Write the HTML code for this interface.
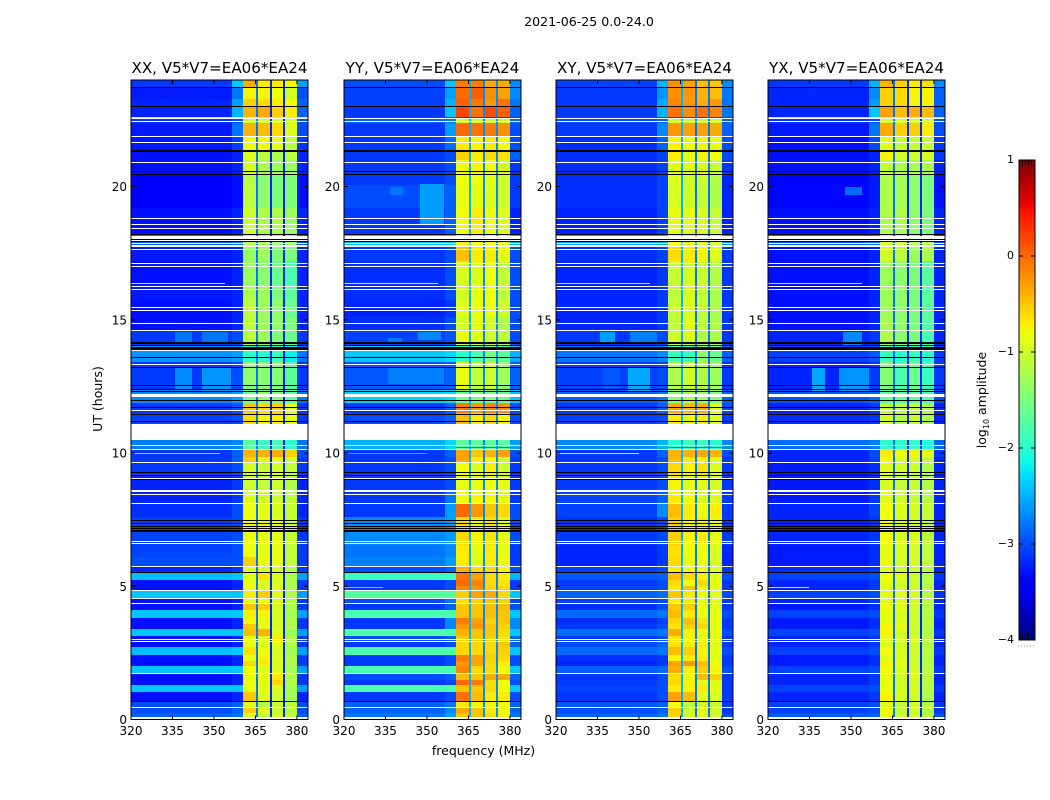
<!DOCTYPE html>
<html lang="en">
<head>
<meta charset="utf-8">
<title>2021-06-25 0.0-24.0</title>
<style>
html,body{margin:0;padding:0;background:#fff;width:1050px;height:800px;overflow:hidden}
svg{display:block;position:absolute;left:0;top:0}
text{font-family:"DejaVu Sans","Liberation Sans",sans-serif;fill:#000}
</style>
</head>
<body>
<svg id="figure" width="1050" height="800" viewBox="0 0 1050 800" xmlns="http://www.w3.org/2000/svg">
<text x="589" y="26" font-size="12.6" text-anchor="middle">2021-06-25 0.0-24.0</text>
<text x="483.5" y="755" font-size="12.5" text-anchor="middle">frequency (MHz)</text>
<text x="102" y="399" font-size="12.5" text-anchor="middle" transform="rotate(-90 102 399)">UT (hours)</text>
<text x="986" y="400" font-size="12.5" text-anchor="middle" transform="rotate(-90 986 400)">log<tspan font-size="8" dy="3">10</tspan><tspan dy="-3"> amplitude</tspan></text>
</svg>
<script>
// ---- axis data ----
const panelTitles = ['XX, V5*V7=EA06*EA24','YY, V5*V7=EA06*EA24','XY, V5*V7=EA06*EA24','YX, V5*V7=EA06*EA24'];
const xTickValues = [320,335,350,365,380];
const yTickValues = [0,5,10,15,20];
const colorbarTicks = [1,0,-1,-2,-3,-4];

// frequency (MHz) segments: low band, ramp, sub-band 1, gap, 2, gap, 3, gap, 4, right edge
const channelEdges = [320,356.5,360.5,365.1,365.8,370.3,370.9,375.1,375.7,379.9,384];

// UT (hours) where each row of the level tables starts
const rowStarts = [0,.25,.45,.7,1.03,1.3,1.5,1.74,2,2.2,2.42,2.72,2.95,3.13,3.4,3.6,3.81,4.11,4.35,4.56,4.82,5.02,5.23,5.5,5.72,6.1,6.55,7.6,8.12,8.61,9.14,9.66,9.85,10.15,10.49,11.1,11.5,11.88,12.36,13.4,13.87,14.05,14.6,15.1,15.74,16.3,17.2,17.77,18.2,19.2,20.06,20.43,21,21.37,21.9,22.4,22.6,23,23.3,23.73];

// log10 amplitude per row: [low, ramp, sub1, sub2, sub3, sub4, right]
const xxLevels = [
[-2.9,-2.8,-.9,-1.1,-1,-1.1,-2.9],[-3,-2.9,-.55,-.9,-1,-1.1,-3],[-3,-2.9,-.9,-1.2,-1.05,-1.1,-3],[-3.3,-3.2,-.5,-.9,-1,-1.25,-3.2],
[-2.4,-2.4,-.85,-.85,-.95,-1.25,-2.6],[-3.3,-3.2,-.8,-.85,-.6,-1.2,-3.1],[-3.3,-3.2,-.8,-.85,-.7,-1.2,-3.1],[-2.4,-2.4,-.8,-.9,-.9,-1.25,-2.6],
[-3.3,-3.2,-.6,-.7,-.95,-1.2,-3.1],[-3.3,-3.2,-.85,-.75,-.9,-1.2,-3.1],[-2.45,-2.4,-.65,-.8,-.95,-1.25,-2.6],[-3.3,-3.2,-.8,-.9,-.85,-1.2,-3.1],
[-3.3,-3.2,-.85,-.9,-.7,-1.2,-3.1],[-2.4,-2.4,-.45,-.4,-.9,-1.3,-2.6],[-3.3,-3.2,-.5,-.85,-.95,-1.2,-3.1],[-3.3,-3.2,-.75,-.85,-.95,-1.2,-3.1],
[-2.4,-2.4,-.7,-.75,-.95,-1.25,-2.6],[-3.3,-3.2,-.5,-.55,-.95,-1.2,-3.1],[-3.3,-3.2,-.85,-.8,-.95,-1.2,-3.1],[-2.4,-2.4,-.7,-.55,-.9,-1.2,-2.6],
[-3.3,-3.2,-.85,-.9,-.9,-1.2,-3.1],[-3.3,-3.2,-.8,-.9,-.95,-1.2,-3.1],[-2.45,-2.4,-.85,-.65,-.9,-1.2,-2.6],[-3.2,-3.1,-.9,-.9,-.95,-1.2,-3.1],
[-3,-3,-.55,-.8,-.85,-1.1,-3.1],[-3.05,-3,-.8,-.85,-.85,-1.1,-3.1],[-3.05,-3,-.8,-.85,-.85,-1.05,-3.1],[-3.15,-3,-.8,-.85,-.95,-1.05,-3.2],
[-3.2,-3.1,-.9,-1,-1,-1.1,-3.2],[-3.2,-3.1,-1,-1.05,-1,-1.15,-3.2],[-3.1,-3,-.95,-1,-.95,-1.1,-3.1],[-3.1,-2.9,-.55,-.85,-.85,-1,-3.1],
[-3.1,-2.9,-.4,-.4,-.35,-.55,-3],[-2.75,-2.7,-1.7,-1.9,-1.8,-2,-2.8],[-2.75,-2.7,-1.7,-1.9,-1.8,-2,-2.8],[-3.05,-3,-.6,-.75,-.7,-.85,-3.1],
[-3.1,-2.95,-.5,-.6,-.55,-.85,-3.1],[-2.7,-2.6,-1.6,-1.4,-1.5,-1.7,-2.8],[-3.1,-3,-1.4,-1.4,-1.45,-1.7,-3.1],[-2.65,-2.6,-2,-2,-1.9,-2.2,-2.8],
[-2.65,-2.6,-2,-2,-1.9,-2.2,-2.8],[-3.1,-3,-1.1,-1.3,-1.5,-1.6,-3.1],[-3.3,-3.2,-1.1,-1.3,-1.4,-1.5,-3.2],[-3.3,-3.2,-1.1,-1.3,-1.4,-1.6,-3.2],
[-3.25,-3.2,-1.2,-1.3,-1.5,-1.7,-3.2],[-3.3,-3.2,-1.3,-1.4,-1.6,-1.8,-3.2],[-3.25,-3.2,-1.35,-1.3,-1.5,-1.5,-3.2],[-2.9,-2.8,-1.2,-1.25,-1.4,-1.4,-3],
[-3.3,-3.2,-1,-1.2,-1.2,-1.3,-3.2],[-3.4,-3.3,-1.1,-1.4,-1.5,-1.5,-3.3],[-3.4,-3.3,-1.15,-1.4,-1.5,-1.5,-3.3],[-3.3,-3.2,-.95,-1.2,-1.3,-1.3,-3.2],
[-3.3,-3.2,-.9,-1.1,-1.2,-1.1,-3.2],[-3.25,-3.05,-.8,-.8,-.85,-1.1,-3.1],[-3.25,-2.8,-.4,-.45,-.6,-.9,-3],[-3.1,-3,-1,-1,-1,-1,-3],
[-3.2,-2.5,-.4,-.35,-.55,-.7,-2.9],[-3.2,-2.6,-.55,-.6,-.7,-.8,-2.9],[-3.25,-2.8,-.75,-.75,-.8,-1,-3],[-3.1,-2.4,-.35,-.7,-.7,-.75,-2.6]
];
const yyLevels = [
[-2.8,-2.6,-.5,-.5,-.6,-.75,-2.8],[-2.9,-2.7,-.35,-.5,-.7,-.8,-2.9],[-2.9,-2.8,-.7,-.75,-.75,-.8,-2.9],[-3.1,-3,-.05,-.45,-.7,-.7,-3],
[-1.8,-1.8,-.5,-.5,-.6,-.8,-2.4],[-3.1,-3,0,-.1,-.6,-.8,-3],[-3,-2.9,-.45,-.5,-.35,-.35,-2.9],[-1.8,-1.8,-.15,-.6,-.6,-.8,-2.4],
[-3.1,-3,-.25,-.3,-.6,-.7,-3],[-3.1,-3,-.1,-.3,-.55,-.6,-3],[-1.8,-1.8,-.6,-.6,-.6,-.55,-2.4],[-3.1,-3,-.6,-.6,-.6,-.5,-2.9],
[-3,-2.9,-.55,-.5,-.55,-.65,-2.9],[-1.8,-1.8,-.4,-.5,-.5,-.6,-2.4],[-3.1,-2.7,-.25,-.25,-.5,-.55,-2.7],[-3.1,-2.7,-.1,-.3,-.55,-.5,-2.7],
[-1.8,-1.8,-.5,-.5,-.45,-.5,-2.4],[-3.1,-2.9,-.5,-.5,-.45,-.45,-3],[-3,-2.8,-.65,-.55,-.5,-.55,-3],[-1.75,-1.75,-.55,-.3,-.35,-.6,-2.4],
[-3.1,-3,-.15,-.25,-.6,-.6,-3.1],[-3.1,-3,0,-.15,-.6,-.65,-3.1],[-1.9,-1.9,-.05,-.3,-.6,-.7,-2.5],[-3,-2.9,-.4,-.6,-.6,-.75,-3],
[-2.75,-2.6,-.7,-.9,-.7,-.8,-3.1],[-2.8,-2.7,-.7,-.85,-.7,-.85,-3.1],[-2.7,-2.6,-.6,-.75,-.65,-.85,-3],[-3.1,-2.6,0,-.25,-.5,-.6,-3],
[-3.1,-2.8,-.8,-.75,-.75,-.85,-3.1],[-3.1,-3,-.85,-.85,-.8,-.85,-3.1],[-3.1,-3,-.8,-.9,-.7,-1,-3.1],[-3.1,-3,-.35,-.7,-.75,-1,-3.1],
[-3.1,-2.9,-.3,-.5,-.4,-.3,-3],[-2.5,-2.3,-1.7,-1.7,-1.7,-1.7,-2.6],[-2.5,-2.3,-1.7,-1.7,-1.7,-1.7,-2.6],[-3,-2.9,-.45,-.7,-.6,-.75,-3],
[-3.1,-2.9,-.1,-.25,-.15,-.2,-3],[-2.35,-2.3,-1.6,-1.5,-1.5,-1.6,-2.4],[-2.95,-2.9,-.85,-1.1,-1,-1.3,-2.9],[-2.4,-2.3,-2,-1.8,-1.5,-1.7,-2.5],
[-2.4,-2.3,-2,-1.8,-1.5,-1.7,-2.5],[-3.05,-2.95,-.85,-.9,-1,-1.1,-3],[-3.15,-3,-1,-.85,-1,-1.2,-3],[-3.2,-3.1,-.9,-.8,-.8,-1,-3],
[-3.15,-3,-1,-.85,-.8,-1.1,-3],[-3.15,-3,-.95,-.9,-.8,-1.05,-3],[-3.1,-3,-.45,-.7,-.7,-.85,-3],[-2.4,-2.4,-.7,-.8,-.8,-.9,-2.5],
[-3.1,-2.9,-.8,-.7,-.8,-.9,-3.2],[-3,-2.9,-.85,-.85,-.9,-1,-3.1],[-3.1,-3,-.8,-.8,-.85,-1,-3.1],[-3.1,-3,-.8,-.75,-.8,-.95,-3.1],
[-3.1,-3,-.55,-.7,-.6,-.65,-2.9],[-3.1,-2.85,-.7,-.75,-.7,-.8,-3],[-3.1,-2.6,0,-.05,-.1,-.2,-3],[-2.9,-2.8,-1,-1,-1,-1,-2.9],
[-3.1,-2.4,.2,-.05,.15,.05,-2.9],[-3.05,-2.5,.05,-.1,-.25,-.05,-2.8],[-3.05,-2.6,0,.05,-.2,-.3,-2.7],[-3,-2.4,-.1,-.1,-.35,-.35,-2.7]
];
const xyLevels = [
[-2.9,-2.8,-.6,-.95,-.9,-1,-3],[-3,-2.9,-.55,-1,-.85,-1,-3.1],[-2.95,-2.9,-.8,-1.1,-.95,-1.05,-3.1],[-3.1,-3,-.3,-.45,-.85,-.95,-3.1],
[-3.05,-3,-.7,-.75,-.7,-.85,-3.1],[-3.1,-3,-.6,-.75,-.85,-.9,-3.1],[-3.1,-3,-.6,-.8,-.45,-.55,-3.1],[-2.9,-2.85,-.35,-.7,-.55,-.75,-3],
[-3.2,-3.1,-.3,-.25,-.45,-.8,-3.1],[-3.15,-3.1,-.75,-.7,-.7,-.9,-3.1],[-2.85,-2.8,-.45,-.55,-.75,-.85,-3],[-3,-2.9,-.65,-.7,-.7,-.9,-3.1],
[-3.1,-3,-.7,-.75,-.8,-.9,-3.1],[-2.85,-2.8,-.35,-.75,-.8,-.85,-3],[-3.1,-3,-.65,-.55,-.6,-.85,-3.1],[-3.15,-3.05,-.6,-.45,-.65,-.85,-3.1],
[-2.85,-2.8,-.45,-.7,-.8,-.85,-3],[-3.15,-3,-.5,-.55,-.8,-.9,-3.1],[-3.05,-3,-.7,-.7,-.85,-.9,-3.1],[-2.9,-2.85,-.5,-.7,-.8,-.9,-3],
[-3.05,-3,-.7,-.5,-.75,-.85,-3.1],[-3.1,-3,-.6,-.8,-.6,-.85,-3.1],[-2.95,-2.9,-.45,-.6,-.7,-.9,-3],[-3.05,-3,-.7,-.8,-.8,-.9,-3.1],
[-3.2,-3.1,-.6,-.85,-.8,-.95,-3.2],[-3.2,-3.1,-.65,-.8,-.8,-.95,-3.2],[-3.1,-3,-.55,-.75,-.7,-.85,-3.1],[-3.05,-2.7,-.45,-.7,-.8,-.7,-3.1],
[-3.05,-2.9,-.7,-.8,-.9,-.95,-3.1],[-3.1,-3,-.75,-.85,-.85,-.95,-3.1],[-3.1,-3,-.6,-.75,-.65,-.9,-3.1],[-3.1,-3,-.45,-.7,-.75,-.9,-3.1],
[-3.1,-2.9,-.4,-.4,-.35,-.4,-3],[-2.7,-2.5,-2,-1.9,-1.9,-2,-2.7],[-2.7,-2.5,-2,-1.9,-1.9,-2,-2.7],[-3.05,-3,-.7,-.85,-.7,-.9,-3.1],
[-3.1,-2.9,-.35,-.45,-.35,-.9,-3],[-2.9,-2.8,-1.4,-1.2,-1.3,-1.5,-2.9],[-3.05,-3,-1.2,-1,-1.15,-1.3,-3.1],[-2.8,-2.7,-1.9,-1.9,-1.35,-1.6,-2.9],
[-2.8,-2.7,-1.9,-1.9,-1.35,-1.6,-2.9],[-3.1,-3,-1,-.9,-1.2,-1.2,-3.1],[-3.2,-3.1,-1.1,-.9,-1.1,-1.2,-3.1],[-3.2,-3.1,-1.05,-.9,-1.05,-1.2,-3.1],
[-3.2,-3.1,-1.1,-.95,-1.05,-1.2,-3.1],[-3.2,-3.1,-1.05,-.95,-1,-1.15,-3.1],[-3.15,-3.05,-.6,-.7,-.75,-.9,-3.1],[-2.6,-2.5,-.8,-.85,-.9,-1,-2.7],
[-3.2,-3.05,-.85,-.85,-.9,-1.05,-3.2],[-3.15,-3.05,-.95,-1,-1.05,-1.2,-3.2],[-3.15,-3.05,-.9,-1,-1,-1.15,-3.2],[-3.15,-3.05,-.9,-.9,-.95,-1.05,-3.1],
[-3.15,-3.05,-.7,-.85,-.75,-.8,-3],[-3.15,-2.9,-.75,-.8,-.75,-.85,-3],[-3.1,-2.7,-.25,-.3,-.3,-.35,-2.9],[-3,-2.9,-1,-1,-1,-1,-2.9],
[-3.1,-2.5,-.05,-.2,-.05,-.15,-2.8],[-3.1,-2.55,-.15,-.25,-.35,-.25,-2.8],[-3.1,-2.65,-.2,-.25,-.4,-.45,-2.8],[-3.05,-2.5,-.2,-.3,-.45,-.5,-2.7]
];
const yxLevels = [
[-2.95,-2.9,-.85,-1.05,-1,-1.15,-3],[-3.05,-3,-.8,-1.05,-1,-1.15,-3.1],[-3.05,-3,-.9,-1.1,-1,-1.15,-3.1],[-3.2,-3.1,-.75,-.95,-1,-1.2,-3.2],
[-3.05,-3,-.85,-1,-.95,-1.15,-3.1],[-3.2,-3.1,-.85,-1,-1,-1.15,-3.2],[-3.2,-3.1,-.85,-1,-.9,-1.1,-3.2],[-3.05,-3,-.8,-.95,-.95,-1.15,-3.1],
[-3.25,-3.15,-.75,-.85,-1,-1.15,-3.2],[-3.25,-3.15,-.9,-.95,-1,-1.15,-3.2],[-3.05,-3,-.8,-.95,-1,-1.15,-3.1],[-3.2,-3.1,-.9,-1,-1,-1.15,-3.2],
[-3.2,-3.1,-.9,-1,-1,-1.15,-3.2],[-3.05,-3,-.75,-.95,-1,-1.2,-3.1],[-3.25,-3.15,-.75,-.85,-1,-1.15,-3.2],[-3.25,-3.15,-.85,-.9,-1,-1.15,-3.2],
[-3.05,-3,-.85,-.95,-1,-1.15,-3.1],[-3.25,-3.15,-.8,-.85,-1,-1.15,-3.2],[-3.2,-3.1,-.9,-.95,-1,-1.15,-3.2],[-3.05,-3,-.85,-.9,-.95,-1.15,-3.1],
[-3.2,-3.1,-.9,-1,-1,-1.15,-3.2],[-3.2,-3.1,-.85,-1,-1,-1.15,-3.2],[-3.05,-3,-.8,-.9,-1,-1.15,-3.1],[-3.15,-3.1,-.9,-1,-1,-1.15,-3.2],
[-3.25,-3.15,-.8,-.95,-.95,-1.1,-3.2],[-3.25,-3.15,-.85,-.95,-.95,-1.1,-3.2],[-3.2,-3.1,-.8,-.95,-.95,-1.1,-3.2],[-3.2,-3.05,-.8,-.9,-.95,-1.05,-3.2],
[-3.25,-3.1,-.9,-1,-1.05,-1.15,-3.2],[-3.25,-3.15,-.95,-1.05,-1.05,-1.15,-3.2],[-3.25,-3.15,-.9,-1,-1,-1.15,-3.2],[-3.2,-3.05,-.8,-.95,-.95,-1.1,-3.2],
[-3.2,-3,-.7,-.8,-.75,-.85,-3.1],[-2.85,-2.75,-2,-2,-1.95,-2.05,-2.9],[-2.85,-2.75,-2,-2,-1.95,-2.05,-2.9],[-3.15,-3.1,-1,-1.15,-1.05,-1.2,-3.2],
[-3.2,-3.1,-1.05,-1.1,-1.05,-1.2,-3.2],[-2.95,-2.85,-1.7,-1.7,-1.7,-1.8,-3],[-3.2,-3.1,-1.45,-1.8,-1.6,-1.9,-3.1],[-3.05,-2.95,-1.9,-2,-1.9,-2,-3.1],
[-3.05,-2.95,-1.9,-2,-1.9,-2,-3.1],[-3.2,-3.1,-1.2,-1.4,-1.5,-1.8,-3.2],[-3.3,-3.2,-1.25,-1.4,-1.5,-1.7,-3.2],[-3.3,-3.2,-1.3,-1.4,-1.5,-1.7,-3.2],
[-3.3,-3.2,-1.3,-1.4,-1.5,-1.7,-3.2],[-3.3,-3.2,-1.3,-1.4,-1.5,-1.7,-3.2],[-3.3,-3.2,-1,-1.1,-1.3,-1.2,-3.2],[-2.9,-2.8,-1,-1.05,-1.2,-1.2,-3],
[-3.3,-3.2,-1.2,-1.2,-1.4,-1.5,-3.2],[-3.35,-3.25,-1.2,-1.25,-1.4,-1.5,-3.3],[-3.35,-3.25,-1.2,-1.25,-1.4,-1.5,-3.3],[-3.3,-3.2,-1.1,-1.2,-1.2,-1.2,-3.2],
[-3.3,-3.2,-.75,-1,-1,-.95,-3.1],[-3.3,-3,-.9,-1.05,-1.05,-1.05,-3.1],[-3.25,-2.8,-.35,-.55,-.55,-.7,-3],[-3.1,-3,-1,-1,-1,-1,-3],
[-3.2,-2.4,-.3,-.45,-.35,-.45,-2.9],[-3.2,-2.6,-.55,-.6,-.75,-.75,-2.9],[-3.2,-2.7,-.55,-.6,-.75,-.75,-2.9],[-3.1,-2.5,-.4,-.55,-.7,-.65,-2.7]
];

// level of the three gaps between sub-bands, per polarisation
const xxGaps = [-2.8,-3.2,-3.2];
const yyGaps = [-2.5,-2.7,-2.7];
const xyGaps = [-2.5,-2.8,-2.8];
const yxGaps = [-2.8,-3.2,-3.2];

// faint broadband patches: [fStart, fEnd, utStart, utEnd, level]
const xxPatches = [[336,342,14.15,14.55,-2.8],[345.7,355,14.15,14.55,-2.8],[336,342,12.3,13.2,-2.7],[345.7,356,12.3,13.2,-2.65]];
const yyPatches = [[347.5,356,18.6,20.1,-2.6],[336.6,341.3,19.7,19.97,-2.8],[336,341,14.15,14.3,-2.8],[346.7,355,14.25,14.55,-2.7],[336,356,12.6,13.2,-2.75]];
const xyPatches = [[336,341.4,14.15,14.55,-2.6],[346.8,356.5,14.15,14.55,-2.75],[337,343,12.3,13.2,-2.95],[346,354,12.3,13.2,-2.55]];
const yxPatches = [[336,340.6,12.3,13.2,-2.55],[345.7,356.5,12.3,13.2,-2.65],[347,354,14.05,14.55,-2.7],[348,354,19.7,20,-2.85]];

// narrow interference lines: [ut, fStart, fEnd, level]
const xxLines = [[22.62,320,384,-.9],[22.48,320,384,-1],[16.4,320,354,-1.3],[14.63,320,354,-.7],[10,320,352,-2]];
const yyLines = [[22.62,320,384,.55],[22.48,320,384,-1.7],[16.4,320,354,-1],[14.63,320,354,-.7],[10,320,350,-2.5],[4.98,320,334,-.35],[10.22,360.5,380,.3]];
const xyLines = [[22.62,320,384,.55],[22.48,320,384,-1.5],[16.4,320,354,-1.1],[14.63,320,354,-.7],[10,320,350,-1],[10.22,360.5,380,.35]];
const yxLines = [[22.62,320,384,-.7],[22.48,320,384,-2],[16.4,320,354,-1.5],[14.63,320,354,-.8],[4.98,320,335,-1]];

// rows flagged across all polarisations: [ut, duration hours]
const blankedRows = [[22.56,.04],[22.45,.04],[21.88,.04],[21.66,.04],[20.91,.04],[18.81,.04],[18.58,.04],[18.43,.04],[18.09,.08],[17.98,.04],[17.88,.04],[17.77,.04],[17.64,.04],[17.11,.04],[17.01,.04],[16.25,.04],[16.14,.04],[15.46,.04],[15.35,.04],[14.87,.04],[14.59,.04],[13.85,.04],[13.33,.04],[12.16,.08],[11.6,.04],[10.79,.59],[10.29,.04],[10.14,.04],[9.65,.04],[9.05,.04],[8.59,.08],[8.46,.04],[8.11,.04],[6.68,.04],[6.59,.04],[5.73,.04],[4.84,.04],[4.54,.04],[4.36,.04],[3.01,.04],[2.91,.04],[1.73,.04],[.46,.04],[.05,.08]];
const zeroRows = [[23.72,.04],[23.01,.04],[21.34,.08],[20.55,.04],[20.44,.04],[18.2,.05],[18.03,.04],[17.93,.04],[14.13,.04],[14.03,.04],[13.92,.1],[13.58,.04],[13.22,.04],[12.53,.04],[12.37,.04],[12.3,.04],[11.96,.04],[11.71,.04],[11.45,.04],[11.17,.04],[9.26,.04],[9.14,.04],[8.99,.04],[7.46,.04],[7.36,.04],[7.26,.04],[7.16,.04],[7.08,.08],[5.53,.04],[.67,.04]];

// ---- layout and axis functions ----
const svg = document.getElementById('figure');
const NS = 'http://www.w3.org/2000/svg';
const panelLefts = [131,344,556,768];
const panelWidth = 177, plotTop = 80, plotHeight = 639.5;
const freqMin = 320, freqMax = 384, utMax = 24;
const levelMin = -4, levelMax = 1;
const barLeft = 1019, barWidth = 16, barTop = 160, barHeight = 480;

function xScale(f, left){ return left + (f - freqMin) * panelWidth / (freqMax - freqMin); }
function yScale(t){ return plotTop + plotHeight * (1 - t / utMax); }
function barY(v){ return barTop + barHeight * (levelMax - v) / (levelMax - levelMin); }

function jetChannel(p, stops){
  for (let i = 1; i < stops.length; i++) {
    if (p <= stops[i][0]) {
      const a = stops[i-1], b = stops[i];
      return a[1] + (b[1] - a[1]) * (p - a[0]) / (b[0] - a[0]);
    }
  }
  return stops[stops.length-1][1];
}
function jet(v){
  const p = Math.max(0, Math.min(1, (v - levelMin) / (levelMax - levelMin)));
  const r = jetChannel(p, [[0,0],[.35,0],[.66,1],[.89,1],[1,.5]]);
  const g = jetChannel(p, [[0,0],[.125,0],[.375,1],[.64,1],[.91,0],[1,0]]);
  const b = jetChannel(p, [[0,.5],[.11,1],[.34,1],[.65,0],[1,0]]);
  return 'rgb(' + Math.round(r*255) + ',' + Math.round(g*255) + ',' + Math.round(b*255) + ')';
}
function addRect(parent, x0, y0, x1, y1, fill){
  const r = document.createElementNS(NS, 'rect');
  const xa = Math.round(x0), xb = Math.round(x1), ya = Math.round(y0);
  r.setAttribute('x', xa);
  r.setAttribute('y', ya);
  r.setAttribute('width', Math.max(1, xb - xa));
  r.setAttribute('height', Math.max(1, Math.round(y1) - ya));
  r.setAttribute('fill', fill);
  r.setAttribute('shape-rendering', 'crispEdges');
  parent.appendChild(r);
  return r;
}
function addLine(parent, x1, y1, x2, y2){
  const l = document.createElementNS(NS, 'line');
  l.setAttribute('x1', x1);
  l.setAttribute('y1', y1);
  l.setAttribute('x2', x2);
  l.setAttribute('y2', y2);
  l.setAttribute('stroke', '#000');
  l.setAttribute('stroke-width', '1');
  parent.appendChild(l);
  return l;
}
function addText(parent, x, y, str, size, anchor){
  const t = document.createElementNS(NS, 'text');
  t.setAttribute('x', x);
  t.setAttribute('y', y);
  t.setAttribute('font-size', size);
  t.setAttribute('text-anchor', anchor);
  t.textContent = str;
  parent.appendChild(t);
  return t;
}
function addGroup(parent){
  const g = document.createElementNS(NS, 'g');
  parent.appendChild(g);
  return g;
}

function drawPanel(index, levels, gaps, patches, lines){
  const left = panelLefts[index];
  const panel = addGroup(svg);
  
  
  const cells = addGroup(panel);
  
  

  levels.forEach(function(row, i){
    const tStart = rowStarts[i];
    const tEnd = i + 1 < rowStarts.length ? rowStarts[i+1] : utMax;
    const segmentLevels = [row[0],row[1],row[2],gaps[0],row[3],gaps[1],row[4],gaps[2],row[5],row[6]];
    segmentLevels.forEach(function(level, c){
      const cell = addRect(cells, xScale(channelEdges[c], left), yScale(tEnd), xScale(channelEdges[c+1], left), yScale(tStart), jet(level));
      
      
    });
  });
  patches.forEach(function(p){
    const patch = addRect(cells, xScale(p[0], left), yScale(p[3]), xScale(p[1], left), yScale(p[2]), jet(p[4]));
    
    
  });
  lines.forEach(function(l){
    const rfi = addRect(cells, xScale(l[1], left), yScale(l[0]), xScale(l[2], left), yScale(l[0]) + 1, jet(l[3]));
    
    
  });
  zeroRows.forEach(function(f){
    const zero = addRect(cells, left, yScale(f[0] + f[1]/2), left + panelWidth, yScale(f[0] - f[1]/2), '#000');
    
    
  });
  blankedRows.forEach(function(f){
    const blank = addRect(cells, left, yScale(f[0] + f[1]/2), left + panelWidth, yScale(f[0] - f[1]/2), '#fff');
    
    
  });

  const frame = document.createElementNS(NS, 'rect');
  frame.setAttribute('x', left);
  frame.setAttribute('y', plotTop);
  frame.setAttribute('width', panelWidth);
  frame.setAttribute('height', plotHeight);
  frame.setAttribute('fill', 'none');
  frame.setAttribute('stroke', '#000');
  frame.setAttribute('stroke-width', '1');
  
  
  panel.appendChild(frame);

  const title = addText(panel, left + panelWidth/2, 73, panelTitles[index], 15.1, 'middle');
  
  

  xTickValues.forEach(function(v){
    const x = xScale(v, left);
    const bottomTick = addLine(panel, x, plotTop + plotHeight, x, plotTop + plotHeight - 4);
    
    
    const topTick = addLine(panel, x, plotTop, x, plotTop + 4);
    
    
    const label = addText(panel, x, 735, String(v), 12, 'middle');
    
    
  });
  yTickValues.forEach(function(v){
    const y = yScale(v);
    const leftTick = addLine(panel, left, y, left + 4, y);
    
    
    const rightTick = addLine(panel, left + panelWidth, y, left + panelWidth - 4, y);
    
    
    const label = addText(panel, left - 4, y + 4.5, String(v), 12, 'end');
    
    
  });
}

drawPanel(0, xxLevels, xxGaps, xxPatches, xxLines);
drawPanel(1, yyLevels, yyGaps, yyPatches, yyLines);
drawPanel(2, xyLevels, xyGaps, xyPatches, xyLines);
drawPanel(3, yxLevels, yxGaps, yxPatches, yxLines);

// ---- colorbar ----
const colorbar = addGroup(svg);


for (let py = 0; py < barHeight; py += 2) {
  const v = levelMax - (py + 1) * (levelMax - levelMin) / barHeight;
  const swatch = addRect(colorbar, barLeft, barTop + py, barLeft + barWidth, barTop + py + 2, jet(v));
  
  
}
const barFrame = document.createElementNS(NS, 'rect');
barFrame.setAttribute('x', barLeft);
barFrame.setAttribute('y', barTop);
barFrame.setAttribute('width', barWidth);
barFrame.setAttribute('height', barHeight);
barFrame.setAttribute('fill', 'none');
barFrame.setAttribute('stroke', '#000');
barFrame.setAttribute('stroke-width', '1');


colorbar.appendChild(barFrame);
colorbarTicks.forEach(function(v){
  const y = barY(v);
  const tickL = addLine(colorbar, barLeft, y, barLeft + 4, y);
  
  
  const tickR = addLine(colorbar, barLeft + barWidth, y, barLeft + barWidth - 4, y);
  
  
  const label = addText(colorbar, barLeft - 5, y + 3, v < 0 ? '\u2212' + Math.abs(v) : String(v), 11, 'end');
  
  
});
[3.5,6.5,9.5,12.5].forEach(function(dx){
  const topMark = addLine(colorbar, barLeft + dx, barTop, barLeft + dx, barTop + 6);
  
  
  const bottomMark = addLine(colorbar, barLeft + dx, barTop + barHeight, barLeft + dx, barTop + barHeight - 6);
  
  
});
const dots = addLine(colorbar, barLeft - 1, 646, barLeft + barWidth, 646);
dots.setAttribute('stroke', '#999');
dots.setAttribute('stroke-dasharray', '1 2');


</script>
</body>
</html>
